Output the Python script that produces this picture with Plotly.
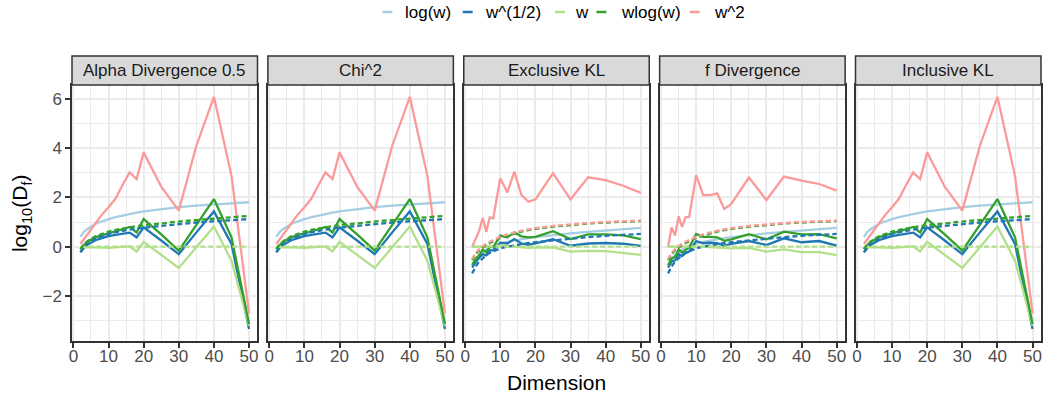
import plotly.graph_objects as go
from plotly.subplots import make_subplots

# Problem dimensions
dims = [2, 3, 4, 5, 6, 7, 8, 10, 12, 14, 16, 18, 20, 25, 30, 35, 40, 45, 50]

panels = ["Alpha Divergence 0.5", "Chi^2", "Exclusive KL", "f Divergence", "Inclusive KL"]
weights = ["log(w)", "w^(1/2)", "w", "wlog(w)", "w^2"]
colors = ["#A6CEE3", "#1F78B4", "#B2DF8A", "#33A02C", "#FB9A99"]

# Mass-covering divergences (Alpha 0.5, Chi^2, Inclusive KL): estimated log10(D_f)
cov_logw = [0.40, 0.60, 0.72, 0.82, 0.90, 0.97, 1.03, 1.12, 1.20, 1.27, 1.33, 1.38, 1.43, 1.52, 1.60, 1.66, 1.71, 1.76, 1.80]
cov_sqrtw = [-0.23, -0.05, 0.08, 0.17, 0.24, 0.30, 0.35, 0.43, 0.48, 0.53, 0.57, 0.38, 0.78, 0.25, -0.30, 0.58, 1.43, 0.11, -3.33]
cov_w = [-0.03, -0.02, -0.02, -0.03, -0.03, -0.04, -0.04, -0.05, -0.03, 0.00, 0.01, -0.19, 0.20, -0.33, -0.86, -0.02, 0.82, -0.57, -3.20]
cov_wlogw = [-0.09, 0.08, 0.20, 0.29, 0.36, 0.42, 0.47, 0.54, 0.62, 0.72, 0.80, 0.58, 1.12, 0.50, -0.16, 0.88, 1.93, 0.38, -3.13]
cov_w2 = [0.11, 0.30, 0.50, 0.70, 0.90, 1.10, 1.28, 1.60, 1.95, 2.50, 3.01, 2.74, 3.82, 2.43, 1.46, 4.09, 6.07, 2.87, -2.71]
# reference curves (dashed)
cov_ref_sqrtw = [-0.22, 0.00, 0.12, 0.22, 0.30, 0.37, 0.43, 0.52, 0.59, 0.65, 0.70, 0.74, 0.77, 0.85, 0.92, 0.98, 1.03, 1.08, 1.12]
cov_ref_w = [0.0] * 19
cov_ref_wlogw = [-0.10, 0.10, 0.22, 0.32, 0.40, 0.46, 0.52, 0.61, 0.68, 0.74, 0.79, 0.83, 0.87, 0.95, 1.02, 1.08, 1.14, 1.20, 1.25]

# Mode-seeking divergences (Exclusive KL, f Divergence)
seek_logw = [-0.75, -0.50, -0.35, -0.22, -0.12, -0.04, 0.02, 0.12, 0.20, 0.26, 0.31, 0.35, 0.39, 0.47, 0.54, 0.60, 0.65, 0.71, 0.76]
seek_ref_sqrtw = [-1.08, -0.80, -0.60, -0.45, -0.34, -0.25, -0.18, -0.07, 0.00, 0.06, 0.11, 0.15, 0.18, 0.26, 0.33, 0.39, 0.44, 0.48, 0.52]
seek_ref_w = [0.0] * 19
seek_ref_wlogw = [-0.55, -0.30, -0.15, -0.03, 0.07, 0.15, 0.22, 0.35, 0.45, 0.54, 0.61, 0.67, 0.72, 0.81, 0.88, 0.94, 0.98, 1.01, 1.04]
seek_ref_w2 = [-0.50, -0.25, -0.10, 0.02, 0.12, 0.20, 0.27, 0.40, 0.50, 0.58, 0.65, 0.70, 0.75, 0.84, 0.91, 0.96, 1.00, 1.03, 1.06]

excl_sqrtw = [-0.85, -0.62, -0.45, -0.30, -0.35, -0.15, -0.15, 0.16, 0.13, 0.31, 0.13, 0.08, 0.13, 0.30, 0.04, 0.13, 0.15, 0.12, 0.03]
excl_w = [0.00, 0.00, 0.00, 0.00, 0.00, 0.00, 0.00, 0.05, 0.03, 0.00, -0.03, -0.05, -0.04, -0.03, -0.20, -0.17, -0.18, -0.24, -0.33]
excl_wlogw = [-0.74, -0.50, -0.35, -0.12, -0.22, 0.00, -0.02, 0.45, 0.38, 0.58, 0.42, 0.38, 0.40, 0.63, 0.31, 0.50, 0.50, 0.46, 0.31]
excl_w2 = [0.00, 0.35, 0.65, 1.17, 0.60, 1.19, 1.15, 2.77, 2.20, 3.04, 2.10, 1.82, 1.92, 2.97, 1.92, 2.81, 2.70, 2.47, 2.18]

fdiv_sqrtw = [-0.85, -0.60, -0.55, -0.30, -0.38, -0.25, -0.20, 0.23, 0.14, 0.16, 0.14, 0.04, 0.11, 0.23, 0.07, 0.34, 0.18, 0.23, 0.04]
fdiv_w = [0.00, 0.00, 0.00, 0.00, 0.00, 0.00, 0.00, 0.02, 0.00, -0.02, -0.04, -0.06, -0.07, -0.05, -0.20, -0.11, -0.22, -0.22, -0.34]
fdiv_wlogw = [-0.75, -0.48, -0.41, -0.11, -0.24, -0.14, -0.03, 0.52, 0.40, 0.40, 0.38, 0.24, 0.30, 0.51, 0.30, 0.61, 0.50, 0.51, 0.34]
fdiv_w2 = [0.00, 0.78, 0.45, 1.24, 0.80, 1.20, 1.20, 2.90, 2.09, 2.09, 2.16, 1.53, 1.73, 2.80, 1.89, 2.84, 2.68, 2.54, 2.27]

y_ticks = [-2, 0, 2, 4, 6]
x_ticks = [0, 10, 20, 30, 40, 50]

cov_solid = {"log(w)": cov_logw, "w^(1/2)": cov_sqrtw, "w": cov_w, "wlog(w)": cov_wlogw, "w^2": cov_w2}
cov_dash = {"w^(1/2)": cov_ref_sqrtw, "w": cov_ref_w, "wlog(w)": cov_ref_wlogw}
seek_dash = {"w^(1/2)": seek_ref_sqrtw, "w": seek_ref_w, "wlog(w)": seek_ref_wlogw, "w^2": seek_ref_w2}
excl_solid = {"log(w)": seek_logw, "w^(1/2)": excl_sqrtw, "w": excl_w, "wlog(w)": excl_wlogw, "w^2": excl_w2}
fdiv_solid = {"log(w)": seek_logw, "w^(1/2)": fdiv_sqrtw, "w": fdiv_w, "wlog(w)": fdiv_wlogw, "w^2": fdiv_w2}

panel_solid = [cov_solid, cov_solid, excl_solid, fdiv_solid, cov_solid]
panel_dash = [cov_dash, cov_dash, seek_dash, seek_dash, cov_dash]

W, H = 1045, 395
ML, MR, MT, MB = 72, 2, 85, 54
PW, PH = W - ML - MR, H - MT - MB

fig = make_subplots(rows=1, cols=5, shared_yaxes=True, horizontal_spacing=10.4 / PW)

for c in range(5):
    for wname, col in zip(weights, colors):
        if wname in panel_solid[c]:
            fig.add_trace(go.Scatter(x=dims, y=panel_solid[c][wname], mode="lines",
                                     line=dict(color=col, width=2.3), name=wname,
                                     showlegend=False, hoverinfo="skip"), row=1, col=c + 1)
    for wname, col in zip(weights, colors):
        if wname in panel_dash[c]:
            fig.add_trace(go.Scatter(x=dims, y=panel_dash[c][wname], mode="lines",
                                     line=dict(color=col, width=2.3, dash="5px,3px"), name=wname,
                                     showlegend=False, hoverinfo="skip"), row=1, col=c + 1)

grid = "#EBEBEB"
frame = "#333333"
font_family = "Liberation Sans, Arial, sans-serif"
tickfont = dict(family=font_family, size=17, color="#4D4D4D")

fig.update_xaxes(range=[-0.4, 52.4], tickvals=x_ticks, showgrid=True, gridcolor=grid, gridwidth=1.8,
                 minor=dict(dtick=5, tick0=5, showgrid=True, gridcolor=grid, gridwidth=0.9),
                 showline=True, mirror=True, linecolor=frame, linewidth=1.5,
                 ticks="outside", ticklen=5, tickwidth=1.5, tickcolor=frame,
                 ticklabelstandoff=-6, tickfont=tickfont, zeroline=False)
fig.update_yaxes(range=[-3.82, 6.55], tickvals=y_ticks, ticktext=["\u22122", "0", "2", "4", "6"],
                 showgrid=True, gridcolor=grid, gridwidth=1.8,
                 minor=dict(dtick=1, tick0=1, showgrid=True, gridcolor=grid, gridwidth=0.9),
                 showline=True, mirror=True, linecolor=frame, linewidth=1.5,
                 tickfont=tickfont, zeroline=False, ticks="")
fig.update_yaxes(ticks="outside", ticklen=5, tickwidth=1.5, tickcolor=frame, row=1, col=1)

strip_h = 29 / PH
shapes = []
annotations = []
for c, title in enumerate(panels):
    xr = "x domain" if c == 0 else f"x{c + 1} domain"
    yr = "y domain" if c == 0 else f"y{c + 1} domain"
    shapes.append(dict(type="rect", xref=xr, yref=yr, x0=0, x1=1, y0=1, y1=1 + strip_h,
                       fillcolor="#D9D9D9", line=dict(color=frame, width=1.5), layer="above"))
    annotations.append(dict(xref=xr, yref=yr, x=0.5, y=1 + strip_h / 2, text=title, showarrow=False,
                            xanchor="center", yanchor="middle",
                            font=dict(family=font_family, size=17, color="#1A1A1A")))


def px_x(px):
    return (px - ML) / PW


def px_y(py):
    return (H - MB - py) / PH


# legend row
leg_y = px_y(12)
swatch_mid = [388, 468.5, 561, 602.5, 696]
text_left = [404, 484, 574, 620, 713]
for wname, col, sx, tx in zip(weights, colors, swatch_mid, text_left):
    shapes.append(dict(type="line", xref="paper", yref="paper", x0=px_x(sx - 5), x1=px_x(sx + 5),
                       y0=leg_y, y1=leg_y, line=dict(color=col, width=2.5)))
    annotations.append(dict(xref="paper", yref="paper", x=px_x(tx), y=leg_y, text=wname, showarrow=False,
                            xanchor="left", yanchor="middle",
                            font=dict(family=font_family, size=17, color="#000000")))

annotations.append(dict(xref="paper", yref="paper", x=px_x(557), y=px_y(382), text="Dimension",
                        showarrow=False, xanchor="center", yanchor="middle",
                        font=dict(family=font_family, size=21, color="#000000")))
annotations.append(dict(xref="paper", yref="paper", x=px_x(21), y=0.5, text="log<sub>10</sub>(D<sub>f</sub>)",
                        showarrow=False, xanchor="center", yanchor="middle", textangle=-90,
                        font=dict(family=font_family, size=21, color="#000000")))

fig.update_layout(width=W, height=H, margin=dict(l=ML, r=MR, t=MT, b=MB, pad=0),
                  plot_bgcolor="white", paper_bgcolor="white", showlegend=False,
                  shapes=shapes, annotations=annotations)

fig.write_html("out.html")
